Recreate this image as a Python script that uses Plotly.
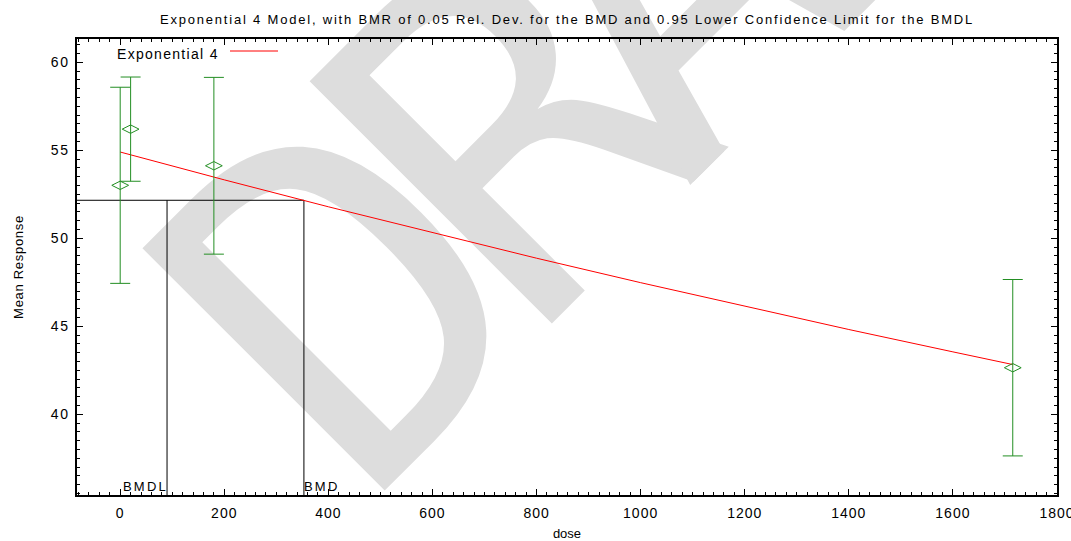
import plotly.graph_objects as go

# Observed dose groups: mean response with confidence half-widths
dose = [0, 20, 180, 1715]
mean_response = [53.01, 56.20, 54.12, 42.65]
ci_halfwidth = [5.57, 2.96, 5.02, 5.01]

# Fitted Exponential 4 model evaluated along the dose axis
model_dose = [0, 200, 400, 600, 800, 1000, 1200, 1400, 1600, 1715]
model_response = [54.90, 53.32, 51.79, 50.31, 48.87, 47.48, 46.13, 44.82, 43.55, 42.83]

# Benchmark dose results
bmd = 353
bmdl = 90
bmr_response = 52.16

# Axis ticks
x_tick_values = [0, 200, 400, 600, 800, 1000, 1200, 1400, 1600, 1800]
x_tick_labels = ["0", "200", "400", "600", "800", "1000", "1200", "1400", "1600", "1800"]
y_tick_values = [40, 45, 50, 55, 60]
y_tick_labels = ["40", "45", "50", "55", "60"]

X_RANGE = [-83, 1800]
Y_RANGE = [35.42, 61.32]

FONT = "Liberation Sans, Arial, sans-serif"
GREEN = "#238e23"


def spaced(text, px):
    return f'<span style="letter-spacing:{px}px">{text}</span>'


fig = go.Figure()

# BMD / BMDL reference lines
fig.add_trace(go.Scatter(
    x=[X_RANGE[0], bmd, None, bmdl, bmdl, None, bmd, bmd],
    y=[bmr_response, bmr_response, None, Y_RANGE[0], bmr_response, None, Y_RANGE[0], bmr_response],
    mode="lines", line=dict(color="black", width=1),
    hoverinfo="skip", showlegend=False,
))

# Model curve
fig.add_trace(go.Scatter(
    x=model_dose, y=model_response, mode="lines",
    line=dict(color="#ff0000", width=1), name="Exponential 4", showlegend=False,
))

# Observed means with error bars
fig.add_trace(go.Scatter(
    x=dose, y=mean_response, mode="markers",
    marker=dict(symbol="diamond-wide-open", size=12, color=GREEN, line=dict(color=GREEN, width=1)),
    error_y=dict(type="data", array=ci_halfwidth, visible=True, color=GREEN, thickness=1, width=10),
    showlegend=False,
))

# Legend entry: label followed by the line sample
fig.add_annotation(
    xref="paper", yref="paper", x=(115 - 77) / 980, y=(495 - 54) / 456,
    xanchor="left", yanchor="middle", showarrow=False,
    text=spaced("Exponential 4", 1.3), font=dict(family=FONT, size=14, color="black"),
)
fig.add_shape(
    type="line", xref="paper", yref="paper",
    x0=(230 - 77) / 980, x1=(278 - 77) / 980, y0=(495 - 51) / 456, y1=(495 - 51) / 456,
    line=dict(color="#ff0000", width=1),
)

# BMDL / BMD labels at the foot of the lines
fig.add_annotation(
    x=bmdl, y=Y_RANGE[0], xref="x", yref="y", xanchor="right", yanchor="bottom",
    xshift=3, yshift=-1, showarrow=False, text=spaced("BMDL", 2.2),
    font=dict(family=FONT, size=13, color="black"),
)
fig.add_annotation(
    x=bmd, y=Y_RANGE[0], xref="x", yref="y", xanchor="left", yanchor="bottom",
    xshift=-2, yshift=-1, showarrow=False, text=spaced("BMD", 2.2),
    font=dict(family=FONT, size=13, color="black"),
)

# DRAFT watermark letters, rotated and kept beneath the data
watermark_letters = ["D", "R", "A"]
watermark_centres = [(0.2516, 0.4851), (0.4212, 0.8493), (0.5799, 1.1906)]
for letter, (cx, cy) in zip(watermark_letters, watermark_centres):
    fig.add_shape(
        type="rect", xref="paper", yref="paper",
        x0=cx - 0.001, x1=cx + 0.001, y0=cy - 0.001, y1=cy + 0.001,
        line=dict(width=0), fillcolor="rgba(0,0,0,0)", layer="below",
        label=dict(text=letter, textangle=-45, textposition="middle center",
                   font=dict(family="DejaVu Sans Mono", size=470, color="#dddddd")),
    )

axis_common = dict(
    showline=True, linecolor="black", linewidth=1.5, mirror="allticks",
    ticks="inside", ticklen=6, tickwidth=1, tickcolor="black",
    showgrid=False, zeroline=False, automargin=False,
    tickfont=dict(family=FONT, size=14, color="black"),
    tickmode="array",
)

fig.update_layout(
    width=1071, height=541,
    margin=dict(l=77, r=14, t=39, b=46),
    paper_bgcolor="white", plot_bgcolor="white",
    showlegend=False,
    title=dict(
        text=spaced("Exponential 4 Model, with BMR of 0.05 Rel. Dev. for the BMD and 0.95 Lower Confidence Limit for the BMDL", 1.8),
        x=(77 + 1057) / 2 / 1071, xanchor="center", y=1 - 19 / 541, yanchor="middle",
        yref="container", xref="container",
        font=dict(family=FONT, size=13, color="black"),
    ),
    xaxis=dict(
        axis_common, range=X_RANGE,
        tickvals=x_tick_values, ticktext=[spaced(t, 1) for t in x_tick_labels],
        minor=dict(ticks="inside", tickmode="linear", tick0=0, dtick=20, ticklen=3, tickcolor="black", showgrid=False),
        ticklabelstandoff=4, ticklabeloverflow="allow",
        title=dict(text="dose", font=dict(family=FONT, size=13, color="black"), standoff=16),
    ),
    yaxis=dict(
        axis_common, range=Y_RANGE,
        tickvals=y_tick_values, ticktext=[spaced(t, 1.5) for t in y_tick_labels],
        minor=dict(ticks="inside", tickmode="linear", tick0=0, dtick=0.5, ticklen=3, tickcolor="black", showgrid=False),
        ticklabelstandoff=3,
        title=dict(text=spaced("Mean Response", 0.7), font=dict(family=FONT, size=13, color="black"), standoff=24),
    ),
)

fig.write_html("out.html")
